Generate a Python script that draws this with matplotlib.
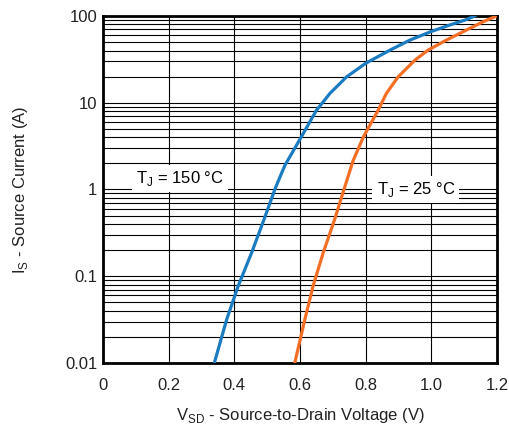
import matplotlib
matplotlib.use("Agg")
import matplotlib.pyplot as plt
from matplotlib.ticker import LogLocator, NullFormatter

plt.rcParams['font.family'] = ['Liberation Sans', 'DejaVu Sans']
plt.rcParams['mathtext.fontset'] = 'custom'
plt.rcParams['mathtext.rm'] = 'Liberation Sans'

# curve readings (V, A)
v_150 = [0.339, 0.377, 0.412, 0.453, 0.491, 0.525, 0.554, 0.600, 0.650, 0.691,
         0.742, 0.800, 0.874, 0.935, 0.998, 1.056, 1.107, 1.132]
i_150 = [0.01, 0.032, 0.0776, 0.188, 0.458, 1.04, 1.9, 3.8, 8.18, 12.8,
         19.9, 28.5, 40.4, 52.8, 65.9, 78.7, 91, 100]
v_25 = [0.584, 0.615, 0.640, 0.671, 0.706, 0.735, 0.762, 0.793, 0.838, 0.863,
        0.899, 0.950, 0.990, 1.046, 1.107, 1.158, 1.198]
i_25 = [0.01, 0.032, 0.0776, 0.188, 0.458, 1.03, 2.16, 4.03, 8.2, 12.8,
        19.9, 31, 40.4, 52.8, 68.9, 85.9, 100]

x_ticks = [0, 0.2, 0.4, 0.6, 0.8, 1.0, 1.2]
x_labels = ['0', '0.2', '0.4', '0.6', '0.8', '1.0', '1.2']
y_ticks = [0.01, 0.1, 1, 10, 100]
y_labels = ['0.01', '0.1', '1', '10', '100']

fig = plt.figure(figsize=(5.1, 4.28), dpi=100)
ax = fig.add_axes([0.202, 0.152, 0.7725, 0.8106])

ax.set_yscale('log')
ax.set_xlim(0, 1.2)
ax.set_ylim(0.01, 100)

ax.plot(v_150, i_150, color='#1b7cc1', lw=2.3, solid_joinstyle='round', zorder=4)
ax.plot(v_25, i_25, color='#f36f26', lw=2.3, solid_joinstyle='round', zorder=4)

ax.set_xticks(x_ticks)
ax.set_xticklabels(x_labels)
ax.set_yticks(y_ticks)
ax.set_yticklabels(y_labels)
ax.yaxis.set_minor_locator(LogLocator(base=10, subs=range(2, 10)))
ax.yaxis.set_minor_formatter(NullFormatter())
ax.tick_params(which='both', length=0, labelsize=12, colors='#222222')
ax.tick_params(axis='x', pad=11)
ax.tick_params(axis='y', pad=4)

ax.grid(True, which='major', axis='x', color='black', lw=0.8)
ax.grid(True, which='both', axis='y', color='black', lw=0.8)
for s in ax.spines.values():
    s.set_linewidth(2)

ax.set_xlabel(r'V$_\mathregular{SD}$ - Source-to-Drain Voltage (V)', fontsize=12, labelpad=9, color='#222222')
ax.set_ylabel(r'I$_\mathregular{S}$ - Source Current (A)', fontsize=12, labelpad=25, color='#222222')

box = dict(boxstyle='square,pad=0.25', fc='white', ec='none')
ax.text(0.235, 1.35, r'T$_\mathregular{J}$ = 150 °C', fontsize=12, ha='center', va='center', bbox=box, zorder=3)
ax.text(0.953, 1.0, r'T$_\mathregular{J}$ = 25 °C', fontsize=12, ha='center', va='center', bbox=box, zorder=3)

fig.savefig('out.png', dpi=100)
